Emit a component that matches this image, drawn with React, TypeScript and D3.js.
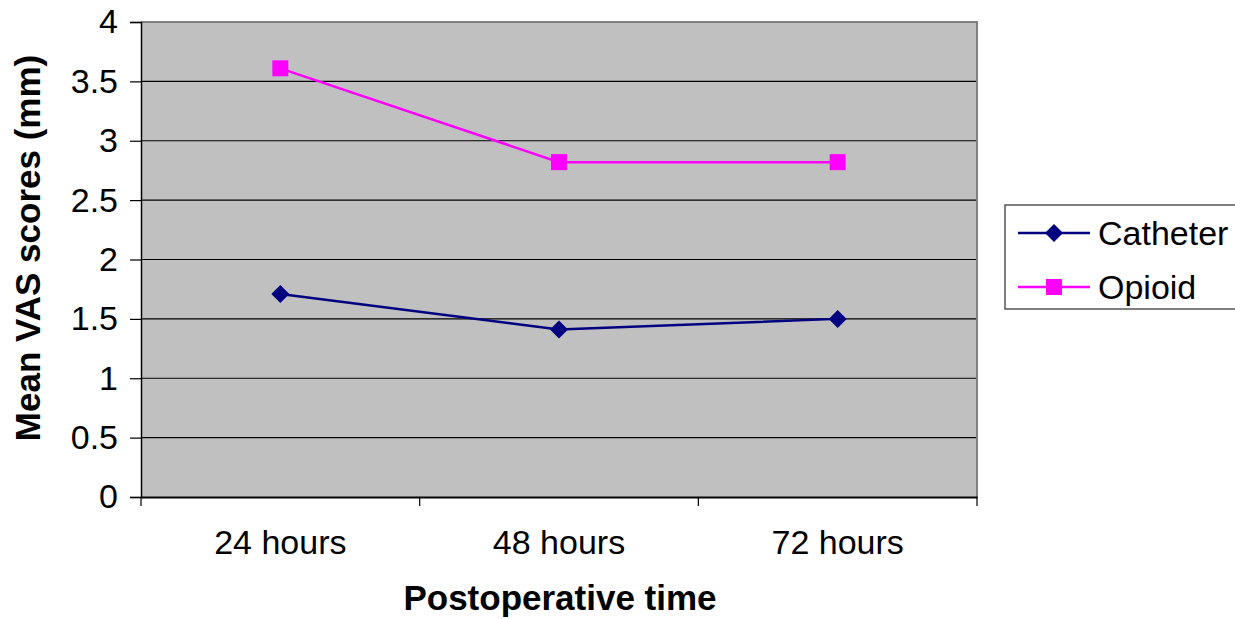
import { useEffect, useRef } from 'react';
import * as d3 from 'd3';

const categories = ['24 hours', '48 hours', '72 hours'];
const catheter = [1.71, 1.41, 1.5];
const opioid = [3.61, 2.82, 2.82];
const yTicks = [0, 0.5, 1, 1.5, 2, 2.5, 3, 3.5, 4];

const series = [
  { name: 'Catheter', values: catheter, color: '#000080', shape: 'diamond' },
  { name: 'Opioid', values: opioid, color: '#ff00ff', shape: 'square' },
];

export default function App() {
  const svgRef = useRef<SVGSVGElement>(null);

  useEffect(() => {
    if (!svgRef.current) return;
    const width = 1235;
    const height = 619;
    const plot = { left: 141, right: 977, top: 22, bottom: 497 };
    const font = '"Liberation Sans", Arial, sans-serif';

    const svg = d3.select(svgRef.current);
    svg.selectAll('*').remove();
    svg.attr('width', width).attr('height', height);

    const x = d3.scaleBand().domain(categories).range([plot.left, plot.right]);
    const y = d3.scaleLinear().domain([0, 4]).range([plot.bottom, plot.top]);

    // plot area
    svg.append('rect')
      .attr('x', plot.left).attr('y', plot.top)
      .attr('width', plot.right - plot.left).attr('height', plot.bottom - plot.top)
      .attr('fill', '#c0c0c0');

    // gridlines
    svg.append('g')
      .selectAll('line')
      .data(yTicks.filter(d => d > 0 && d < 4))
      .join('line')
      .attr('x1', plot.left).attr('x2', plot.right)
      .attr('y1', d => y(d)).attr('y2', d => y(d))
      .attr('stroke', '#000').attr('stroke-width', 1.2);

    // gray border top/right
    svg.append('path')
      .attr('d', `M${plot.left},${plot.top}H${plot.right}V${plot.bottom}`)
      .attr('fill', 'none').attr('stroke', '#808080').attr('stroke-width', 2);

    // y axis
    const yAxis = svg.append('g')
      .attr('transform', `translate(${plot.left},0)`)
      .call(d3.axisLeft(y).tickValues(yTicks).tickSize(11).tickPadding(12).tickFormat(d => String(d)));
    yAxis.select('.domain').attr('stroke', '#000').attr('stroke-width', 1.5);
    yAxis.selectAll('.tick line').attr('stroke', '#000').attr('stroke-width', 1.2);
    yAxis.selectAll('text')
      .attr('fill', '#000').style('font-family', font).style('font-size', '34px');

    // x axis
    const xAxis = svg.append('g')
      .attr('transform', `translate(0,${plot.bottom})`)
      .call(d3.axisBottom(x).tickSize(0).tickPadding(33));
    xAxis.select('.domain').attr('stroke', '#000').attr('stroke-width', 2);
    xAxis.selectAll('text')
      .attr('fill', '#000').style('font-family', font).style('font-size', '34px');
    svg.append('g')
      .selectAll('line')
      .data(d3.range(categories.length + 1))
      .join('line')
      .attr('x1', i => plot.left + i * x.step()).attr('x2', i => plot.left + i * x.step())
      .attr('y1', plot.bottom).attr('y2', plot.bottom + 9)
      .attr('stroke', '#000').attr('stroke-width', 1.2);

    // lines + markers
    const line = d3.line<number>()
      .x((_, i) => x(categories[i])! + x.bandwidth() / 2)
      .y(d => y(d));

    const drawMarker = (g: d3.Selection<any, any, any, any>, shape: string, color: string, cx: number, cy: number) => {
      if (shape === 'diamond') {
        g.append('path')
          .attr('d', `M${cx},${cy - 9}L${cx + 9},${cy}L${cx},${cy + 9}L${cx - 9},${cy}Z`)
          .attr('fill', color);
      } else {
        g.append('rect')
          .attr('x', cx - 8).attr('y', cy - 8).attr('width', 16).attr('height', 16)
          .attr('fill', color);
      }
    };

    series.forEach(s => {
      const g = svg.append('g');
      g.append('path')
        .attr('d', line(s.values))
        .attr('fill', 'none').attr('stroke', s.color).attr('stroke-width', 2.5);
      s.values.forEach((v, i) => {
        drawMarker(g, s.shape, s.color, x(categories[i])! + x.bandwidth() / 2, y(v));
      });
    });

    // legend
    const legend = svg.append('g');
    legend.append('rect')
      .attr('x', 1005).attr('y', 205).attr('width', 250).attr('height', 104)
      .attr('fill', '#fff').attr('stroke', '#555').attr('stroke-width', 1.5);
    series.forEach((s, i) => {
      const ly = 233 + i * 54;
      legend.append('line')
        .attr('x1', 1018).attr('x2', 1090).attr('y1', ly).attr('y2', ly)
        .attr('stroke', s.color).attr('stroke-width', 2.5);
      drawMarker(legend, s.shape, s.color, 1054, ly);
      legend.append('text')
        .attr('x', 1098).attr('y', ly).attr('dy', '0.35em')
        .style('font-family', font).style('font-size', '34px')
        .text(s.name);
    });

    // axis titles
    svg.append('text')
      .attr('x', 560).attr('y', 610)
      .attr('text-anchor', 'middle')
      .style('font-family', font).style('font-size', '35px').style('font-weight', 'bold')
      .text('Postoperative time');

    svg.append('text')
      .attr('transform', `translate(40,248) rotate(-90)`)
      .attr('text-anchor', 'middle')
      .style('font-family', font).style('font-size', '35px').style('font-weight', 'bold')
      .text('Mean VAS scores (mm)');
  }, []);

  return (
    <div style={{ position: 'absolute', left: 0, top: 0 }}>
      <svg ref={svgRef}></svg>
    </div>
  );
}
